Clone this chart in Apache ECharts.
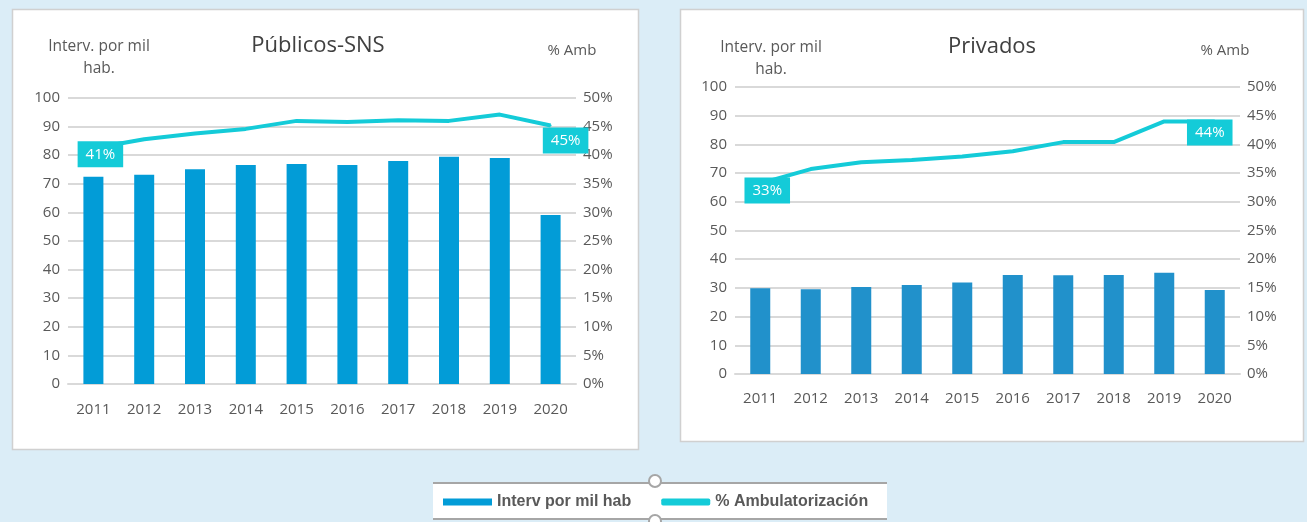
<!DOCTYPE html>
<html>
<head>
<meta charset="utf-8">
<script src="https://cdn.jsdelivr.net/npm/echarts@6/dist/echarts.min.js"></script>
<style>
html,body{margin:0;padding:0;background:#dbedf7;}
#main{width:1307px;height:522px;}
</style>
</head>
<body>
<div id="main"></div>
<script>
const categories = ['2011','2012','2013','2014','2015','2016','2017','2018','2019','2020'];
const publicInterv = [72.5, 73.2, 75.1, 76.6, 76.9, 76.6, 78.0, 79.5, 79.0, 59.1];
const publicAmb = [41.2, 42.8, 43.8, 44.6, 46.0, 45.8, 46.1, 46.0, 47.1, 45.2];
const privateInterv = [29.9, 29.5, 30.3, 31.0, 31.9, 34.5, 34.4, 34.5, 35.3, 29.3];
const privateAmb = [33.2, 35.7, 36.9, 37.3, 37.9, 38.8, 40.4, 40.4, 44.0, 44.0];
const seriesNames = ['Interv por mil hab', '% Ambulatorización'];
const titles = ['Públicos-SNS', 'Privados'];
const leftAxisName = 'Interv. por mil\nhab.';
const rightAxisName = '% Amb';

const FONT = "'Open Sans', 'Noto Sans', sans-serif";
const TICK = '#595959';
const GRIDC = '#d9d9d9';
const LINEC = '#14cbd8';
const BAR_L = '#029cd7';
const BAR_R = '#2191cb';

function lineData(arr, firstOff, lastOff) {
  return arr.map((v, i) => {
    if (i === 0 || i === arr.length - 1) {
      return {
        value: v,
        label: {
          show: true,
          position: 'inside',
          offset: i === 0 ? firstOff : lastOff,
          formatter: p => Math.round(p.value) + '%',
          color: '#ffffff',
          fontFamily: FONT,
          fontSize: 15,
          backgroundColor: LINEC,
          padding: [4, 8],
          lineHeight: 18
        }
      };
    }
    return v;
  });
}

function xAxis(grid, margin) {
  return {
    type: 'category', gridIndex: grid, data: categories,
    axisLine: { lineStyle: { color: GRIDC, width: 2 } },
    axisTick: { show: false },
    axisLabel: { color: TICK, fontFamily: FONT, fontSize: 15, margin: margin }
  };
}
function yLeft(grid) {
  return {
    type: 'value', gridIndex: grid, min: 0, max: 100, interval: 10,
    axisLine: { show: false }, axisTick: { show: false },
    splitLine: { lineStyle: { color: GRIDC, width: 2 } },
    axisLabel: { color: TICK, fontFamily: FONT, fontSize: 15, margin: 8 }
  };
}
function yRight(grid) {
  return {
    type: 'value', gridIndex: grid, min: 0, max: 50, interval: 5, position: 'right',
    axisLine: { show: false }, axisTick: { show: false },
    splitLine: { show: false },
    axisLabel: { color: TICK, fontFamily: FONT, fontSize: 15, margin: 7, formatter: '{value}%' }
  };
}

function txt(x, y, text, size, color) {
  return { type: 'text', x: x, y: y, z: 10,
    style: { text: text, fill: color, font: size + 'px ' + FONT, align: 'center', verticalAlign: 'middle', lineHeight: 22 } };
}

const chart = echarts.init(document.getElementById('main'), null, { renderer: 'canvas' });
chart.setOption({
  backgroundColor: '#dbedf7',
  animation: false,
  grid: [
    { left: 68, right: 1307 - 576, top: 98, bottom: 522 - 384 },
    { left: 735, right: 1307 - 1240, top: 87, bottom: 522 - 374 }
  ],
  xAxis: [xAxis(0, 18), xAxis(1, 17)],
  yAxis: [yLeft(0), yRight(0), yLeft(1), yRight(1)],
  legend: {
    left: 443, top: 494, padding: 0, itemGap: 30,
    itemWidth: 49, itemHeight: 7,
    textStyle: { color: '#595959', fontFamily: "'Liberation Sans', Arial, sans-serif", fontWeight: 'bold', fontSize: 16 },
    data: [
      { name: seriesNames[0], icon: 'rect' },
      { name: seriesNames[1], icon: 'roundRect' }
    ]
  },
  graphic: [
    { type: 'rect', z: -1, shape: { x: 12.5, y: 9.5, width: 626, height: 440 }, style: { fill: '#ffffff', stroke: '#d0d0d0', lineWidth: 1.5 } },
    { type: 'rect', z: -1, shape: { x: 680.5, y: 9.5, width: 623, height: 432 }, style: { fill: '#ffffff', stroke: '#d0d0d0', lineWidth: 1.5 } },
    txt(318, 46, titles[0], 22, '#404040'),
    txt(992, 47, titles[1], 22, '#404040'),
    txt(99, 58, leftAxisName, 15.5, TICK),
    txt(771, 59, leftAxisName, 15.5, TICK),
    txt(572, 51, rightAxisName, 15, TICK),
    txt(1225, 51, rightAxisName, 15, TICK),
    { type: 'rect', z: -1, shape: { x: 433, y: 483, width: 454, height: 36 }, style: { fill: '#ffffff' } },
    { type: 'line', z: 0, shape: { x1: 433, y1: 483, x2: 887, y2: 483 }, style: { stroke: '#a6a6a6', lineWidth: 2 } },
    { type: 'line', z: 0, shape: { x1: 433, y1: 519, x2: 887, y2: 519 }, style: { stroke: '#a6a6a6', lineWidth: 2 } },
    { type: 'circle', z: 1, shape: { cx: 655, cy: 481, r: 6 }, style: { fill: '#ffffff', stroke: '#a6a6a6', lineWidth: 2 } },
    { type: 'circle', z: 1, shape: { cx: 655, cy: 521, r: 6 }, style: { fill: '#ffffff', stroke: '#a6a6a6', lineWidth: 2 } }
  ],
  series: [
    { name: seriesNames[0], type: 'bar', xAxisIndex: 0, yAxisIndex: 0, data: publicInterv, barWidth: 20, itemStyle: { color: BAR_L } },
    { name: seriesNames[1], type: 'line', xAxisIndex: 0, yAxisIndex: 1, data: lineData(publicAmb, [7, 6], [15, 15]),
      symbol: 'circle', symbolSize: 2, color: LINEC, itemStyle: { color: LINEC }, lineStyle: { color: LINEC, width: 4 }, z: 5 },
    { name: seriesNames[0], type: 'bar', xAxisIndex: 1, yAxisIndex: 2, data: privateInterv, barWidth: 20, itemStyle: { color: BAR_R } },
    { name: seriesNames[1], type: 'line', xAxisIndex: 1, yAxisIndex: 3, data: lineData(privateAmb, [7, 7], [-5, 11]),
      symbol: 'circle', symbolSize: 2, color: LINEC, itemStyle: { color: LINEC }, lineStyle: { color: LINEC, width: 4 }, z: 5 }
  ]
});
</script>
</body>
</html>
